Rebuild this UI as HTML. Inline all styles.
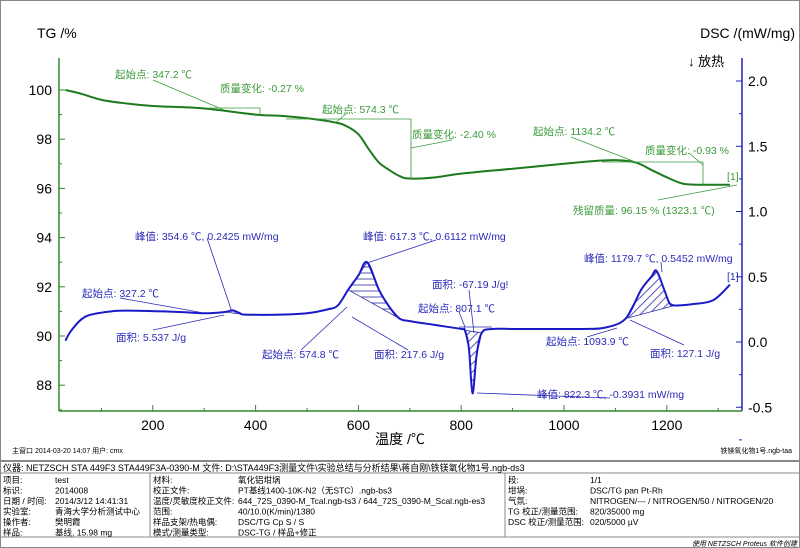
<!DOCTYPE html>
<html><head><meta charset="utf-8"><style>
body{margin:0;background:#fff;font-family:"Liberation Sans","Noto Sans CJK SC",sans-serif;}
#wrap{position:relative;width:800px;height:548px;overflow:hidden;}
svg text{font-family:"Liberation Sans","Noto Sans CJK SC",sans-serif;}
</style></head><body>
<div id="wrap">
<svg id="chart" width="800" height="548"></svg>
</div>
<script>
const xTicks=[200,400,600,800,1000,1200];
const tgTicks=[100,98,96,94,92,90,88];
const dscTicks=[2.0,1.5,1.0,0.5,0.0,-0.5];
const tgTemp=[30,60,100,150,200,300,400,450,500,550,575,600,620,640,660,680,700,750,800,900,1000,1050,1100,1140,1170,1200,1230,1260,1323];
const tgVal=[100,99.85,99.6,99.45,99.35,99.25,99.0,98.95,98.85,98.7,98.55,98.2,97.6,97.05,96.75,96.5,96.4,96.45,96.6,96.8,97.0,97.1,97.15,97.05,96.75,96.45,96.2,96.15,96.15];
const dscTemp=[30,40,60,80,120,150,250,300,340,355,370,380,450,500,540,560,580,600,617,640,660,680,700,750,800,807,815,822,830,840,860,900,950,1000,1040,1080,1120,1150,1170,1180,1195,1205,1215,1250,1290,1323];
const dscVal=[0.01,0.08,0.17,0.21,0.235,0.24,0.23,0.22,0.23,0.2425,0.22,0.21,0.21,0.22,0.25,0.28,0.4,0.51,0.6112,0.4,0.27,0.18,0.16,0.13,0.1,0.09,-0.05,-0.3931,-0.1,0.07,0.1,0.1,0.1,0.1,0.1,0.11,0.18,0.4,0.5,0.5452,0.4,0.3,0.28,0.29,0.32,0.44];
const peaks=[[327,380],[575,690],[807,845],[1094,1215]];

const X=t=>50+0.514*t;
const YT=v=>90+(100-v)*24.6;
const YD=d=>342-130.5*d;
const svg=document.getElementById('chart');
const NS='http://www.w3.org/2000/svg';
function mk(tag,at,parent){const e=document.createElementNS(NS,tag);for(const k in at)e.setAttribute(k,at[k]);(parent||svg).appendChild(e);return e;}
function txt(x,y,s,size,fill,anchor,name){const e=mk('text',{x:x,y:y,'font-size':size,fill:fill,'text-anchor':anchor||'start'});e.textContent=s;

return e;}
function smooth(p){let d='M'+p[0][0]+','+p[0][1];
 for(let i=0;i<p.length-1;i++){const p0=p[i-1]||p[i],p1=p[i],p2=p[i+1],p3=p[i+2]||p2;
  const c1=[p1[0]+(p2[0]-p0[0])/6,p1[1]+(p2[1]-p0[1])/6],c2=[p2[0]-(p3[0]-p1[0])/6,p2[1]-(p3[1]-p1[1])/6];
  d+=' C'+c1.join(',')+' '+c2.join(',')+' '+p2.join(',');}
 return d;}

const defs=mk('defs',{});
const p1=mk('pattern',{id:'hatchH',width:6,height:6,patternUnits:'userSpaceOnUse'},defs);
mk('line',{x1:0,y1:3,x2:6,y2:3,stroke:'#2a2aa8','stroke-width':0.8},p1);
const p2=mk('pattern',{id:'hatchD',width:6,height:6,patternUnits:'userSpaceOnUse',patternTransform:'rotate(-45)'},defs);
mk('line',{x1:0,y1:3,x2:6,y2:3,stroke:'#2a2aa8','stroke-width':0.8},p2);

let r=mk('rect',{x:0.5,y:0.5,width:799,height:547,fill:'none',stroke:'#888'});


let a=mk('line',{x1:59,y1:58,x2:59,y2:411,stroke:'#2e8b2e','stroke-width':1.5});

a=mk('line',{x1:742,y1:58,x2:742,y2:411,stroke:'#2020c0','stroke-width':1.5});

a=mk('line',{x1:59,y1:411,x2:742,y2:411,stroke:'#2e8b2e','stroke-width':1.5});


for(let t=100;t<=1300;t+=100){mk('line',{x1:X(t),y1:411,x2:X(t),y2:t%200==0?405:408,stroke:'#2e8b2e'});}
xTicks.forEach(t=>txt(X(t),430,String(t),14,'#000','middle','x-tick-label'));
tgTicks.forEach(v=>{mk('line',{x1:59,y1:YT(v),x2:65,y2:YT(v),stroke:'#2e8b2e'});mk('line',{x1:59,y1:YT(v-1),x2:62,y2:YT(v-1),stroke:'#2e8b2e'});txt(52,YT(v)+5,String(v),14,'#000','end','tg-tick-label');});
dscTicks.forEach(v=>{mk('line',{x1:736,y1:YD(v),x2:742,y2:YD(v),stroke:'#2020c0'});mk('line',{x1:739,y1:YD(v-0.25),x2:742,y2:YD(v-0.25),stroke:'#2020c0'});txt(748,YD(v)+5,v.toFixed(1),14,'#000','start','dsc-tick-label');});

txt(37,38,'TG /%',14,'#000','start','tg-axis-title');
txt(795,38,'DSC /(mW/mg)',14,'#000','end','dsc-axis-title');
txt(688,66,'↓ 放热',13,'#000','start','exo-direction-label');
txt(400,444,'温度 /℃',14,'#000','middle','x-axis-title');

peaks.forEach((pk,i)=>{
  const pts=[];
  for(let j=0;j<dscTemp.length;j++){if(dscTemp[j]>=pk[0]&&dscTemp[j]<=pk[1])pts.push([X(dscTemp[j]),YD(dscVal[j])]);}
  const e=mk('polygon',{points:pts.map(p=>p.join(',')).join(' '),fill:i==1?'url(#hatchH)':'url(#hatchD)',stroke:'#2a2aa8','stroke-width':0.8});
  
  
});

let c=mk('path',{d:smooth(tgTemp.map((t,i)=>[X(t),YT(tgVal[i])])),fill:'none',stroke:'#1e7a1e','stroke-width':2});

c=mk('path',{d:smooth(dscTemp.map((t,i)=>[X(t),YD(dscVal[i])])),fill:'none',stroke:'#1a1ac8','stroke-width':2});


const G='#3a9a3a',B='#2a2ab8';
[[153,80,224,110,G],[209,108,260,108,G],[260,108,260,115,G],[347,113,335,123,G],[286,119,411,119,G],[411,119,411,180,G],[452,140,411,148,G],
[571,137,638,163,G],[602,162,703,162,G],[703,162,703,185,G],[689,153,703,165,G],[658,200,737,185,G],
[207,238,232,312,B],[436,240,367,263,B],[661,262,662,272,B],
[120,298,204,313,B],[153,330,224,315,B],[301,350,347,307,B],[408,350,352,317,B],
[469,290,474,333,B],[459,312,465,327,B],[459,327,492,327,B],[477,393,610,398,B],[587,337,617,328,B],[684,345,630,320,B]].forEach(l=>{
 const e=mk('line',{x1:l[0],y1:l[1],x2:l[2],y2:l[3],stroke:l[4],'stroke-width':0.8});
 
 });

const ann=[[115,78,'起始点: 347.2 ℃',G],[220,92,'质量变化: -0.27 %',G],[322,113,'起始点: 574.3 ℃',G],[412,138,'质量变化: -2.40 %',G],
[533,135,'起始点: 1134.2 ℃',G],[645,154,'质量变化: -0.93 %',G],[727,180,'[1]',G],[573,214,'残留质量: 96.15 % (1323.1 ℃)',G],
[135,240,'峰值: 354.6 ℃, 0.2425 mW/mg',B],[363,240,'峰值: 617.3 ℃, 0.6112 mW/mg',B],[584,262,'峰值: 1179.7 ℃, 0.5452 mW/mg',B],
[727,280,'[1]',B],[82,297,'起始点: 327.2 ℃',B],[432,288,'面积: -67.19 J/g!',B],[418,312,'起始点: 807.1 ℃',B],
[116,341,'面积: 5.537 J/g',B],[262,358,'起始点: 574.8 ℃',B],[374,358,'面积: 217.6 J/g',B],[546,345,'起始点: 1093.9 ℃',B],
[650,357,'面积: 127.1 J/g',B],[537,398,'峰值: 822.3 ℃, -0.3931 mW/mg',B]];
ann.forEach(a=>txt(a[0],a[1],a[2],10.5,a[3],'start','annotation'));

txt(12,453,'主窗口   2014-03-20 14:07   用户: cmx',7,'#000','start','footer-window');
txt(792,453,'铁镁氧化物1号.ngb-taa',7,'#000','end','footer-file');
mk('line',{x1:0,y1:461,x2:800,y2:461,stroke:'#888','stroke-width':2});
mk('line',{x1:0,y1:473,x2:800,y2:473,stroke:'#888'});
mk('line',{x1:0,y1:537,x2:800,y2:537,stroke:'#888'});
mk('line',{x1:150,y1:473,x2:150,y2:537,stroke:'#888'});
mk('line',{x1:505,y1:473,x2:505,y2:537,stroke:'#888'});
txt(3,471,'仪器: NETZSCH STA 449F3 STA449F3A-0390-M   文件: D:\\STA449F3测量文件\\实验总结与分析结果\\蒋自刚\\铁镁氧化物1号.ngb-ds3',9,'#000','start','instrument-row');
const c1l=['项目:','标识:','日期 / 时间:','实验室:','操作者:','样品:'];
const c1v=['test','2014008','2014/3/12 14:41:31','青海大学分析测试中心','樊明霞','基线, 15.98 mg'];
const c2l=['材料:','校正文件:','温度/灵敏度校正文件:','范围:','样品支架/热电偶:','模式/测量类型:'];
const c2v=['氧化铝坩埚','PT基线1400-10K-N2（无STC）.ngb-bs3','644_72S_0390-M_Tcal.ngb-ts3 / 644_72S_0390-M_Scal.ngb-es3','40/10.0(K/min)/1380','DSC/TG Cp S / S','DSC-TG / 样品+修正'];
const c3l=['段:','坩埚:','气氛:','TG 校正/测量范围:','DSC 校正/测量范围:',''];
const c3v=['1/1','DSC/TG pan Pt-Rh','NITROGEN/--- / NITROGEN/50 / NITROGEN/20','820/35000 mg','020/5000 µV',''];
for(let i=0;i<6;i++){const y=483+i*10.5;
 txt(3,y,c1l[i],8.5,'#000','start','info-label');txt(55,y,c1v[i],8.5,'#000','start','info-value');
 txt(153,y,c2l[i],8.5,'#000','start','info-label');txt(238,y,c2v[i],8.5,'#000','start','info-value');
 txt(508,y,c3l[i],8.5,'#000','start','info-label');txt(590,y,c3v[i],8.5,'#000','start','info-value');}
const f=txt(797,546,'使用 NETZSCH Proteus 软件创建',7,'#000','end','software-credit');f.setAttribute('font-style','italic');
</script>
</body></html>
